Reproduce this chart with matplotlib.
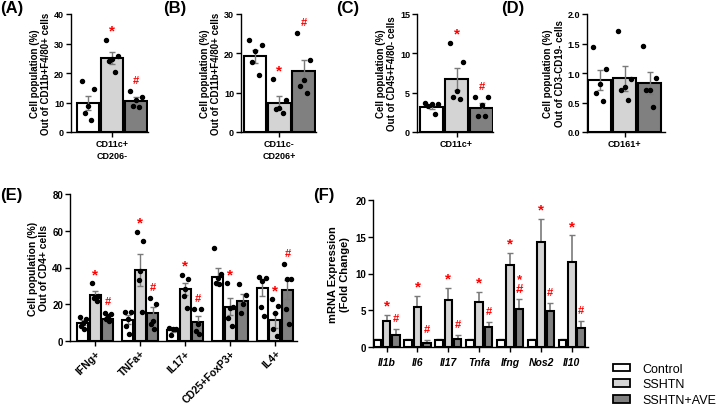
import matplotlib
matplotlib.use('Agg')
import matplotlib.pyplot as plt
from matplotlib.patches import Patch

plt.rcParams['font.family'] = ['Liberation Sans', 'DejaVu Sans']
plt.rcParams['font.weight'] = 'bold'
plt.rcParams['axes.labelweight'] = 'bold'

W, H = 720, 410
groups = ['Control', 'SSHTN', 'SSHTN+AVE']
colors = ['#ffffff', '#d4d4d4', '#808080']
ecolor = '#7a7a7a'

# ---------- Panel A ----------
a_cat = 'CD11c+\nCD206-'
a_mean = [9.8, 25.2, 10.5]
a_sem = [2.4, 2.0, 1.5]
a_points = [[17.3, 14.7, 8.8, 6.3, 4.1],
            [31.3, 25.8, 24.6, 23.9, 20.4],
            [13.9, 12.0, 11.0, 8.8, 8.4]]
a_marks = ['', '*', '#']

# ---------- Panel B ----------
b_cat = 'CD11c-\nCD206+'
b_mean = [19.2, 7.5, 15.5]
b_sem = [1.7, 1.7, 2.9]
b_points = [[23.4, 22.1, 20.6, 17.7, 14.5],
            [13.4, 8.2, 6.1, 5.9, 4.9],
            [25.1, 18.4, 13.3, 11.6, 10.0]]
b_marks = ['', '*', '#']

# ---------- Panel C ----------
c_cat = 'CD11c+'
c_mean = [3.2, 6.7, 3.1]
c_sem = [0.25, 1.4, 0.6]
c_points = [[3.7, 3.6, 3.5, 3.3, 2.25],
            [11.3, 8.9, 5.2, 4.5, 4.2],
            [4.4, 4.4, 3.4, 2.0, 2.0]]
c_marks = ['', '*', '#']

# ---------- Panel D ----------
d_cat = 'CD161+'
d_mean = [0.88, 0.91, 0.83]
d_sem = [0.17, 0.21, 0.18]
d_points = [[1.44, 1.06, 0.81, 0.66, 0.53],
            [1.72, 0.90, 0.77, 0.71, 0.54],
            [1.46, 0.92, 0.72, 0.71, 0.43]]
d_marks = ['', '', '']

# ---------- Panel E ----------
e_cats = ['IFNg+', 'TNFa+', 'IL17+', 'CD25+FoxP3+', 'IL4+']
e_mean = [[10.0, 11.5, 6.0, 35.1, 29.0],
          [24.9, 38.7, 28.5, 18.7, 11.3],
          [12.2, 15.1, 10.4, 21.8, 27.8]]
e_sem = [[1.5, 2.5, 0.9, 4.6, 4.5],
         [2.3, 8.5, 3.3, 4.6, 4.0],
         [1.3, 3.5, 3.1, 3.6, 5.2]]
e_points = [
    [[13.1, 12.2, 10.0, 8.2, 6.7], [16.0, 16.0, 11.8, 8.2, 3.6], [7.3, 6.7, 6.4, 3.3],
     [50.4, 36.4, 34.5, 31.8, 31.0], [35.1, 34.5, 32.7, 18.7, 13.6]],
    [[31.3, 24.5, 24.2, 23.3, 22.0], [59.5, 54.5, 38.2, 33.3, 15.8], [35.8, 34.0, 28.5, 24.5, 18.2],
     [31.3, 18.7, 18.2, 12.7, 8.2], [22.7, 19.0, 15.0, 6.4, 2.7]],
    [[15.5, 14.5, 13.6, 11.8, 10.9], [23.6, 20.4, 10.9, 9.1, 6.4], [17.6, 17.6, 9.1, 5.5, 3.6],
     [31.0, 25.0, 20.4, 15.5], [41.8, 33.6, 33.6, 17.3, 9.1]]]
e_marks = [['', '', '', '', ''],
           ['*', '*', '*', '*', '*'],
           ['#', '#', '#', '', '#']]

# ---------- Panel F ----------
f_cats = ['Il1b', 'Il6', 'Il17', 'Tnfa', 'Ifng', 'Nos2', 'Il10']
f_mean = [[1.0, 1.0, 1.0, 1.0, 1.0, 1.0, 1.0],
          [3.6, 5.4, 6.4, 6.1, 11.2, 14.3, 11.5],
          [1.7, 0.6, 1.1, 2.7, 5.2, 4.9, 2.6]]
f_err = [[0.12, 0.1, 0.12, 0.08, 0.1, 0.12, 0.08],
         [0.8, 1.6, 1.6, 1.4, 1.6, 3.1, 3.7],
         [0.8, 0.3, 0.5, 0.7, 1.3, 1.1, 0.9]]
f_marks = [['', '', '', '', '', '', ''],
           ['*', '*', '*', '*', '*', '*', '*'],
           ['#', '#', '#', '#', '*#', '#', '#']]

fig = plt.figure(figsize=(W / 100, H / 100), dpi=100)


def px_axes(l, t, r, b):
    return fig.add_axes([l / W, 1 - b / H, (r - l) / W, (b - t) / H])


def style(ax, ymax, yticks, labelsize=6.5):
    for s in ['top', 'right']:
        ax.spines[s].set_visible(False)
    for s in ['left', 'bottom']:
        ax.spines[s].set_linewidth(1.0)
    ax.set_ylim(0, ymax)
    ax.set_yticks(yticks)
    ax.tick_params(width=1.0, length=3.5, labelsize=labelsize, pad=1.5)


def mark(ax, x, ytop, sym):
    fs_star, fs_hash = 11, 8
    if sym == '*#':
        fs = 9.5
        ax.annotate('*\n#', (x, ytop), xytext=(0, 12 * 0.72 - (0.212 + 0.35) * fs),
                    textcoords='offset points', ha='center', va='bottom',
                    color='red', fontsize=fs, weight='bold', linespacing=0.75,
                    annotation_clip=False)
    elif sym == '#':
        ax.annotate('#', (x, ytop), xytext=(0, 12 * 0.72 - 0.35 * fs_hash),
                    textcoords='offset points', ha='center', va='baseline',
                    color='red', fontsize=fs_hash, weight='bold', annotation_clip=False)
    elif sym == '*':
        ax.annotate('*', (x, ytop), xytext=(0, 14 * 0.72 - 0.57 * fs_star),
                    textcoords='offset points', ha='center', va='baseline',
                    color='red', fontsize=fs_star, weight='bold', annotation_clip=False)


jit = [-0.28, 0.28, 0.0, -0.14, 0.14]


def bar_with_points(ax, x, w, mean, sem, pts, color, sym, both=True):
    ax.bar(x, mean, width=w, color=color, edgecolor='black', linewidth=1.5, zorder=2)
    if both:
        ax.errorbar(x, mean, yerr=sem, fmt='none', ecolor=ecolor, elinewidth=1.0,
                    capsize=2.5, capthick=1.0, zorder=3)
    else:
        ax.errorbar(x, mean, yerr=[[0], [sem]], fmt='none', ecolor=ecolor, elinewidth=1.2,
                    capsize=2.0, capthick=1.0, zorder=1)
    top = mean + sem
    if pts:
        xs = [x + jit[i % 5] * w for i in range(len(pts))]
        ax.plot(xs, pts, 'o', color='black', markersize=2.9, zorder=4, clip_on=False)
        top = max(top, max(pts))
    if sym:
        mark(ax, x, top, sym)


def single_panel(rect, xlim, cat, mean, sem, pts, marks, ymax, yticks, ylabel, fmt=None):
    ax = px_axes(*rect)
    for i in range(3):
        bar_with_points(ax, i - 1, 0.92, mean[i], sem[i], pts[i], colors[i], marks[i])
    ax.set_xlim(*xlim)
    style(ax, ymax, yticks)
    if fmt:
        ax.set_yticklabels([fmt.format(v) for v in yticks])
    ax.set_xticks([0])
    ax.set_xticklabels([cat], fontsize=6.5, linespacing=1.45)
    ax.set_ylabel(ylabel, fontsize=7, labelpad=2, linespacing=1.15)
    return ax


single_panel((71, 15, 148, 133), (-1.71, 1.5), a_cat, a_mean, a_sem, a_points, a_marks,
             40, [0, 10, 20, 30, 40], 'Cell population (%)\nOut of CD11b+F4/80+ cells')
single_panel((241, 15, 316, 133), (-1.6, 1.52), b_cat, b_mean, b_sem, b_points, b_marks,
             30, [0, 10, 20, 30], 'Cell population (%)\nOut of CD11b+F4/80+ cells')
single_panel((417, 15, 493, 133), (-1.58, 1.46), c_cat, c_mean, c_sem, c_points, c_marks,
             15, [0, 5, 10, 15], 'Cell population (%)\nOut of CD45+F4/80- cells')
single_panel((587, 15, 665, 133), (-1.5, 1.62), d_cat, d_mean, d_sem, d_points, d_marks,
             2.0, [0, 0.5, 1.0, 1.5, 2.0], 'Cell population (%)\nOut of CD3-CD19- cells',
             fmt='{:.1f}')

# Panel E
axE = px_axes(70, 195, 297, 342)
offs_e = [-0.278, 0.0, 0.278]
for g in range(3):
    for j in range(len(e_cats)):
        bar_with_points(axE, j + offs_e[g], 0.245, e_mean[g][j], e_sem[g][j],
                        e_points[g][j], colors[g], e_marks[g][j])
axE.set_xlim(-0.56, 4.49)
style(axE, 80, [0, 20, 40, 60, 80], labelsize=7)
axE.set_xticks(range(len(e_cats)))
axE.set_xticklabels(e_cats, rotation=45, ha='right', rotation_mode='anchor', fontsize=7.5)
axE.set_ylabel('Cell population (%)\nOut of CD4+ cells', fontsize=7.5, labelpad=2, linespacing=1.15)

# Panel F
axF = px_axes(373, 201, 588, 348)
offs_f = [-0.3, 0.0, 0.3]
for g in range(3):
    for j in range(len(f_cats)):
        bar_with_points(axF, j + offs_f[g], 0.245, f_mean[g][j], f_err[g][j], None,
                        colors[g], f_marks[g][j], both=False)
axF.set_xlim(-0.44, 6.52)
style(axF, 20, [0, 5, 10, 15, 20], labelsize=7)
axF.set_xticks(range(len(f_cats)))
axF.set_xticklabels(f_cats, fontsize=7.5, style='italic')
axF.tick_params(axis='x', pad=4)
axF.set_ylabel('mRNA Expression\n(Fold Change)', fontsize=8, labelpad=4, linespacing=1.2)

# Legend
handles = [Patch(facecolor=c, edgecolor='black', linewidth=1.3) for c in colors]
fig.legend(handles, groups, loc='upper left', bbox_to_anchor=(604 / W, 1 - 355 / H),
           frameon=False, prop={'weight': 'normal', 'size': 9}, handlelength=1.4,
           handleheight=0.55, labelspacing=0.3, handletextpad=1.0, borderpad=0.2)

# Panel letters
for txt, x, y in [('(A)', 0, 8), ('(B)', 163, 8), ('(C)', 336, 8), ('(D)', 501, 8),
                  ('(E)', 0, 196), ('(F)', 313, 196)]:
    fig.text(x / W, 1 - y / H, txt, fontsize=12, weight='bold', va='center', ha='left')

fig.savefig('out.png', dpi=100)
